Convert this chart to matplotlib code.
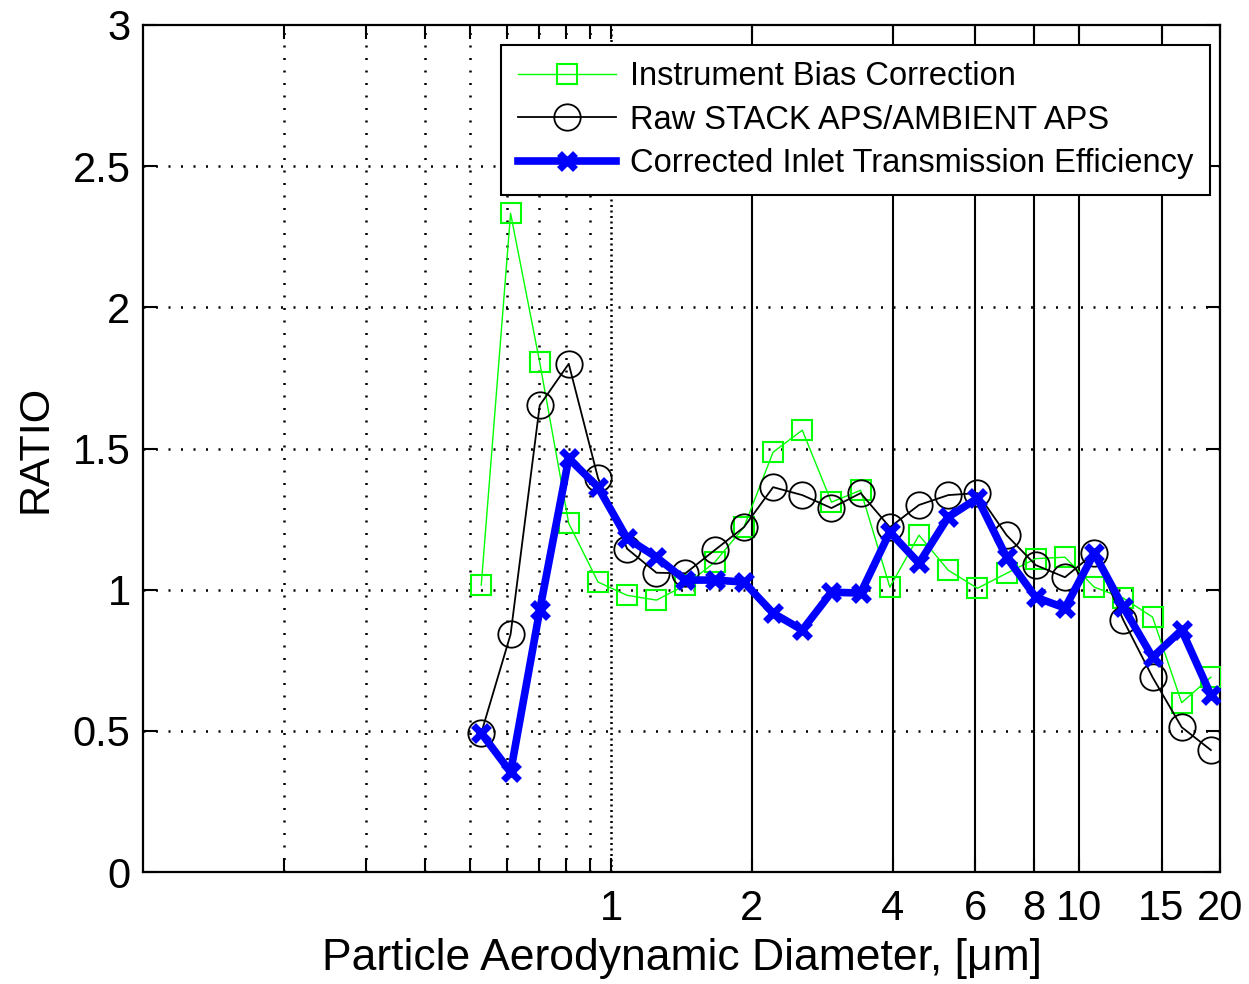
import matplotlib
matplotlib.use('Agg')
import matplotlib.pyplot as plt
from matplotlib.ticker import FixedLocator, NullFormatter, FixedFormatter

plt.rcParams['font.family'] = ['Liberation Sans', 'DejaVu Sans']

# particle aerodynamic diameter [um]
diameter = [0.528, 0.61, 0.704, 0.812, 0.938, 1.082, 1.25, 1.442, 1.665, 1.922,
            2.219, 2.562, 2.957, 3.414, 3.941, 4.549, 5.252, 6.063, 6.999, 8.079,
            9.327, 10.77, 12.43, 14.35, 16.56, 19.12]

bias_corr = [1.016, 2.333, 1.805, 1.235, 1.027, 0.98, 0.963, 1.016, 1.097, 1.221,
             1.487, 1.565, 1.31, 1.352, 1.009, 1.193, 1.069, 1.005, 1.058, 1.11,
             1.115, 1.009, 0.97, 0.903, 0.60, 0.69]

raw_ratio = [0.492, 0.842, 1.653, 1.80, 1.395, 1.145, 1.06, 1.058, 1.14, 1.221,
             1.363, 1.335, 1.289, 1.342, 1.221, 1.30, 1.335, 1.342, 1.193, 1.087,
             1.044, 1.129, 0.892, 0.69, 0.513, 0.432]

inlet_eff = [0.492, 0.354, 0.927, 1.465, 1.363, 1.182, 1.115, 1.034, 1.034, 1.027,
             0.917, 0.857, 0.991, 0.988, 1.204, 1.094, 1.257, 1.324, 1.115, 0.973,
             0.935, 1.129, 0.938, 0.761, 0.857, 0.627]

labels = ['Instrument Bias Correction', 'Raw STACK APS/AMBIENT APS',
          'Corrected Inlet Transmission Efficiency']

major_x = [1, 2, 4, 6, 8, 10, 15, 20]
minor_x = [0.2, 0.3, 0.4, 0.5, 0.6, 0.7, 0.8, 0.9]
solid_x = [2, 4, 6, 8, 10, 15]
y_grid = [0.5, 1, 1.5, 2, 2.5]

fig = plt.figure(figsize=(12.49, 9.84), dpi=100)
ax = fig.add_axes([0.1145, 0.1138, 0.8623, 0.8608])
ax.set_xscale('log')
ax.set_xlim(0.1, 20)
ax.set_ylim(0, 3)

# grid
dots = (0, (0.8, 4.2))
for x in minor_x:
    ax.axvline(x, color='black', lw=1.8, ls=dots, zorder=1)
ax.axvline(1, color='black', lw=1.8, ls=(0, (0.8, 1.4)), zorder=1)
for y in y_grid:
    ax.axhline(y, color='black', lw=1.8, ls=dots, zorder=1)
for x in solid_x:
    ax.axvline(x, color='black', lw=1.5, zorder=1)

ax.plot(diameter, bias_corr, color='#00ff00', lw=1.0, marker='s', ms=14,
        mfc='none', mec='#00ff00', mew=1.5, label=labels[0], zorder=3)
ax.plot(diameter, raw_ratio, color='black', lw=1.3, marker='o', ms=19,
        mfc='none', mec='black', mew=1.3, label=labels[1], zorder=4)
ax.plot(diameter, inlet_eff, color='#0000ff', lw=5.5, marker='x', ms=12,
        mew=5, label=labels[2], zorder=5)

ax.xaxis.set_major_locator(FixedLocator(major_x))
ax.xaxis.set_major_formatter(FixedFormatter([str(v) for v in major_x]))
ax.xaxis.set_minor_locator(FixedLocator(minor_x))
ax.xaxis.set_minor_formatter(NullFormatter())
ax.set_yticks([0, 0.5, 1, 1.5, 2, 2.5, 3])
ax.set_yticklabels(['0', '0.5', '1', '1.5', '2', '2.5', '3'])

ax.tick_params(which='both', direction='in', top=True, right=True,
               length=10, width=1.5, labelsize=30)
ax.tick_params(axis='x', pad=12)
ax.tick_params(axis='y', pad=9)
for s in ax.spines.values():
    s.set_linewidth(1.6)

ax.set_xlabel('Particle Aerodynamic Diameter, [\u03bcm]', fontsize=32, labelpad=7)
ax.set_ylabel('RATIO', fontsize=31, labelpad=12)

leg = ax.legend(loc='upper right', bbox_to_anchor=(0.9907, 0.9764),
                borderaxespad=0, fontsize=23.5, numpoints=1, handlelength=3.0,
                handletextpad=0.45, labelspacing=0.38, fancybox=False,
                framealpha=1, edgecolor='black', borderpad=0.5)
leg.get_frame().set_linewidth(1.5)

fig.savefig('out.png', dpi=100)
